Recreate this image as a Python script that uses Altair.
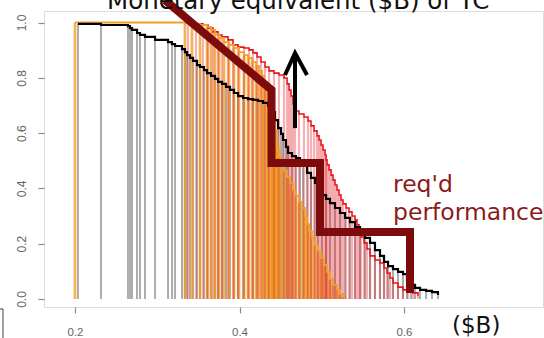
import altair as alt
import pandas as pd

# Survival-type curves (x in $B, y = fraction exceeding)
black_x = [0.2036, 0.2316, 0.2644, 0.2669, 0.2693, 0.2754, 0.2790, 0.2851, 0.2973, 0.3131,
           0.3179, 0.3216, 0.3301, 0.3337, 0.3362, 0.3398, 0.3435, 0.3483, 0.3520, 0.3568,
           0.3605, 0.3653, 0.3702, 0.3739, 0.3787, 0.3836, 0.3884, 0.3933, 0.3982, 0.4043,
           0.4103, 0.4164, 0.4225, 0.4286, 0.4347, 0.4395, 0.4432, 0.4468, 0.4505, 0.4529,
           0.4565, 0.4590, 0.4638, 0.4687, 0.4736, 0.4772, 0.4821, 0.4869, 0.4918, 0.4954,
           0.5003, 0.5052, 0.5100, 0.5161, 0.5222, 0.5283, 0.5343, 0.5404, 0.5465, 0.5526,
           0.5587, 0.5647, 0.5708, 0.5757, 0.5806, 0.5866, 0.5927, 0.5988, 0.6036, 0.6085,
           0.6134, 0.6195, 0.6268, 0.6340, 0.6413]
black_y = [0.995, 0.991, 0.987, 0.980, 0.973, 0.962, 0.955, 0.948, 0.937, 0.929,
           0.922, 0.915, 0.904, 0.893, 0.882, 0.872, 0.861, 0.846, 0.839, 0.828,
           0.817, 0.807, 0.796, 0.785, 0.778, 0.767, 0.756, 0.745, 0.734, 0.727,
           0.723, 0.720, 0.716, 0.709, 0.698, 0.676, 0.647, 0.618, 0.597, 0.575,
           0.550, 0.528, 0.517, 0.510, 0.499, 0.481, 0.456, 0.438, 0.420, 0.398,
           0.376, 0.362, 0.347, 0.329, 0.311, 0.293, 0.278, 0.260, 0.242, 0.221,
           0.203, 0.177, 0.156, 0.134, 0.119, 0.108, 0.098, 0.090, 0.069, 0.051,
           0.040, 0.033, 0.029, 0.025, 0.014]

red_x = [0.3374, 0.3471, 0.3556, 0.3617, 0.3678, 0.3739, 0.3787, 0.3860, 0.3921, 0.3982,
         0.4055, 0.4116, 0.4164, 0.4213, 0.4261, 0.4310, 0.4359, 0.4419, 0.4480, 0.4541,
         0.4578, 0.4602, 0.4626, 0.4650, 0.4675, 0.4723, 0.4784, 0.4833, 0.4869, 0.4906,
         0.4942, 0.4967, 0.4991, 0.5015, 0.5040, 0.5052, 0.5064, 0.5088, 0.5113, 0.5137,
         0.5161, 0.5185, 0.5210, 0.5234, 0.5258, 0.5295, 0.5331, 0.5368, 0.5404, 0.5428,
         0.5453, 0.5477, 0.5514, 0.5550, 0.5587, 0.5647, 0.5708, 0.5757, 0.5793, 0.5830,
         0.5866, 0.5927, 0.5988, 0.6049, 0.6109, 0.6170]
red_y = [0.998, 0.995, 0.991, 0.980, 0.966, 0.955, 0.948, 0.937, 0.919, 0.911,
         0.908, 0.901, 0.890, 0.875, 0.857, 0.839, 0.825, 0.817, 0.810, 0.799,
         0.778, 0.756, 0.734, 0.705, 0.680, 0.669, 0.658, 0.644, 0.626, 0.608,
         0.590, 0.575, 0.557, 0.539, 0.521, 0.503, 0.485, 0.467, 0.448, 0.430,
         0.412, 0.394, 0.376, 0.358, 0.344, 0.329, 0.315, 0.300, 0.286, 0.268,
         0.246, 0.224, 0.203, 0.181, 0.156, 0.141, 0.130, 0.112, 0.094, 0.076,
         0.058, 0.043, 0.033, 0.025, 0.022, 0.011]

orange_x = [0.2000, 0.3337, 0.3422, 0.3520, 0.3605, 0.3653, 0.3702, 0.3751, 0.3812, 0.3872,
            0.3933, 0.3994, 0.4055, 0.4103, 0.4152, 0.4201, 0.4237, 0.4274, 0.4298, 0.4322,
            0.4347, 0.4371, 0.4395, 0.4407, 0.4432, 0.4444, 0.4456, 0.4480, 0.4505, 0.4541,
            0.4578, 0.4614, 0.4650, 0.4687, 0.4723, 0.4760, 0.4796, 0.4821, 0.4845, 0.4881,
            0.4918, 0.4954, 0.4991, 0.5027, 0.5064, 0.5100, 0.5137, 0.5185, 0.5222, 0.5258]
orange_y = [1.000, 0.997, 0.995, 0.991, 0.984, 0.973, 0.958, 0.944, 0.929, 0.919,
            0.908, 0.893, 0.882, 0.872, 0.857, 0.843, 0.825, 0.807, 0.785, 0.763,
            0.738, 0.709, 0.676, 0.644, 0.611, 0.579, 0.546, 0.514, 0.485, 0.463,
            0.441, 0.420, 0.394, 0.373, 0.351, 0.329, 0.300, 0.271, 0.246, 0.221,
            0.195, 0.174, 0.148, 0.123, 0.098, 0.072, 0.051, 0.033, 0.018, 0.007]

# Required-performance staircase and the upward arrow
req_x = [0.3094, 0.4389, 0.4389, 0.4979, 0.4979, 0.6073, 0.6073]
req_y = [1.081, 0.756, 0.492, 0.492, 0.242, 0.242, 0.022]
arrow_x = [0.4675, 0.4675]
arrow_y = [0.618, 0.890]
head_x = [0.4553, 0.4675, 0.4821]
head_y = [0.810, 0.890, 0.810]

x_ticks = [0.2, 0.4, 0.6]
y_ticks = [0.0, 0.2, 0.4, 0.6, 0.8, 1.0]

XDOM = [0.1623, 0.769]
YDOM = [-0.029, 1.0416]

black = pd.DataFrame({"x": black_x, "y": black_y, "i": range(len(black_x))})
red = pd.DataFrame({"x": red_x, "y": red_y, "i": range(len(red_x))})
orange = pd.DataFrame({"x": orange_x, "y": orange_y, "i": range(len(orange_x))})
req = pd.DataFrame({"x": req_x, "y": req_y, "i": range(len(req_x))})
arrow = pd.DataFrame({"x": arrow_x, "y": arrow_y, "i": range(len(arrow_x))})
head = pd.DataFrame({"x": head_x, "y": head_y, "i": range(len(head_x))})
one = pd.DataFrame({"k": [0]})

xs = alt.Scale(domain=XDOM, nice=False, zero=False)
ys = alt.Scale(domain=YDOM, nice=False, zero=False)

X = alt.X("x:Q", scale=xs, title=None,
          axis=alt.Axis(values=x_ticks, format=".1f", grid=False, domain=False,
                        tickSize=6, tickColor="#8a8a8a", tickWidth=1.2,
                        labelColor="#666666", labelFontSize=11.5, labelFont="Liberation Sans",
                        labelPadding=13, labelBaseline="top"))
Y = alt.Y("y:Q", scale=ys, title=None,
          axis=alt.Axis(values=y_ticks, format=".1f", grid=False, domain=False,
                        tickSize=6, tickColor="#8a8a8a", tickWidth=1.2,
                        labelColor="#666666", labelFontSize=12, labelFont="Liberation Sans",
                        labelAngle=270, labelAlign="center", labelBaseline="bottom",
                        labelPadding=10))
Xn = alt.X("x:Q", scale=xs)
Yn = alt.Y("y:Q", scale=ys)


def drops(df, color, opacity, width):
    return alt.Chart(df).mark_rule(color=color, opacity=opacity, strokeWidth=width).encode(
        x=Xn, y=Yn, y2=alt.datum(0))


def curve(df, color, width):
    return alt.Chart(df).mark_line(color=color, strokeWidth=width, interpolate="step-after").encode(
        x=Xn, y=Yn, order="i:Q")


def note(text, px, py, size, color):
    return alt.Chart(one).mark_text(text=text, font="DejaVu Sans", fontSize=size, color=color,
                                    align="left", baseline="alphabetic").encode(
        x=alt.value(px), y=alt.value(py))


axes = alt.Chart(black).mark_point(opacity=0).encode(x=X, y=Y)

gray_drops = drops(black, "#6a6a6a", 0.55, 2)
orange_drops = drops(orange, "#f29a18", 0.75, 2.7)
red_drops = drops(red, "#e4282e", 0.36, 2.2)

red_curve = curve(red, "#e8141c", 1.6)
orange_curve = curve(orange, "#f2a024", 1.8)
black_curve = curve(black, "#000000", 2.2)

req_line = alt.Chart(req).mark_line(color="#7e0b0b", strokeWidth=8, strokeJoin="miter",
                                     strokeCap="butt", clip=False).encode(x=Xn, y=Yn, order="i:Q")
arrow_shaft = alt.Chart(arrow).mark_line(color="#000000", strokeWidth=4, strokeCap="butt").encode(
    x=Xn, y=Yn, order="i:Q")
arrow_head = alt.Chart(head).mark_line(color="#000000", strokeWidth=4, strokeJoin="miter",
                                        strokeCap="butt").encode(x=Xn, y=Yn, order="i:Q")

title_txt = note("Monetary equivalent ($B) of TC", 63, -2, 24.5, "#111111")
req1 = note("req'd", 349, 181, 23.5, "#8a1c1c")
req2 = note("performance", 349, 209, 23.5, "#8a1c1c")
unit_txt = note("($B)", 408, 322, 23, "#111111")

# fragment of a neighbouring panel frame in the lower-left corner
frag_v = alt.Chart(one).mark_rule(color="#444444", strokeWidth=1).encode(
    x=alt.value(-41), y=alt.value(298), y2=alt.value(330))
frag_h = alt.Chart(one).mark_rule(color="#444444", strokeWidth=1).encode(
    x=alt.value(-46), x2=alt.value(-41), y=alt.value(298))

chart = alt.layer(
    axes, gray_drops, orange_drops, red_drops,
    red_curve, orange_curve, black_curve,
    req_line, arrow_shaft, arrow_head,
    title_txt, req1, req2, unit_txt, frag_v, frag_h,
).properties(
    width=499, height=296,
    autosize=alt.AutoSizeParams(type="none"),
    padding={"left": 44, "top": 11, "right": 1, "bottom": 31},
).configure_view(
    stroke="#9a9a9a", strokeWidth=1.4
).configure(background="white")

chart.save("out.html", embed_options={"renderer": "svg", "actions": False})
